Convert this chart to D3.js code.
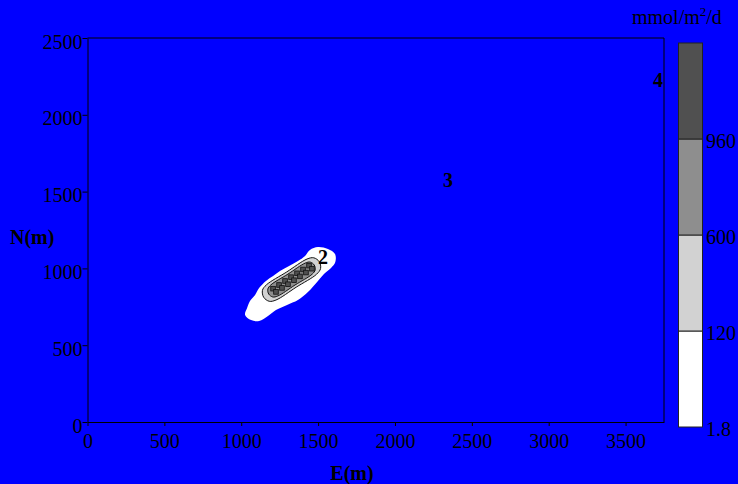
<!DOCTYPE html>
<html>
<head>
<meta charset="utf-8">
<script src="https://cdn.jsdelivr.net/npm/d3@7"></script>
<style>
  html, body { margin: 0; padding: 0; background: #0000ff; }
  svg { display: block; }
  text { font-family: "Liberation Serif", "DejaVu Serif", serif; fill: #000; }
</style>
</head>
<body>
<svg id="chart" width="738" height="484"></svg>
<script>
// Flux field over the survey area (E, N in metres)
const xTicks = [0, 500, 1000, 1500, 2000, 2500, 3000, 3500];
const yTicks = [0, 500, 1000, 1500, 2000, 2500];

// Contour levels (mmol/m2/d) and their fills
const levels = [1.8, 120, 600, 960];
const levelLabels = ["1.8", "120", "600", "960"];
const levelColors = ["#ffffff", "#d2d2d2", "#8e8e8e", "#505050"];

// Contour outlines, [E, N] vertices
const contour1_8 = [[1499,1139],[1564,1126],[1610,1094],[1612,1042],[1584,1003],[1545,970],[1499,918],
  [1434,846],[1369,794],[1298,762],[1226,729],[1174,690],[1116,658],[1064,664],[1025,697],[1038,742],
  [1057,788],[1090,827],[1116,872],[1161,918],[1207,950],[1252,983],[1311,1016],[1369,1048],[1415,1081],[1447,1120]];
const contour120 = [[1428,1061],[1472,1069],[1508,1043],[1516,999],[1490,962],[1358,878],[1226,794],
  [1182,786],[1146,812],[1138,857],[1164,893],[1296,977]];
const contour600 = [[1417,1035],[1449,1041],[1475,1022],[1481,990],[1462,963],[1350,892],[1237,820],
  [1205,814],[1179,833],[1173,865],[1192,892],[1304,963]];
const contours = [contour1_8, contour120, contour600];

// Cells above 960 (centre E, N)
const hotCellsE = [1207,1246,1285,1324,1363,1402,1441, 1226,1265,1304,1343,1382,1421,1460];
const hotCellsN = [ 868, 892, 918, 943, 968, 993,1018,  847, 873, 897, 923, 948, 973, 998];
const cellSize = 30;

// Sampling stations
const stationIds = ["2", "3", "4"];
const stationE = [1532, 2345, 3711];
const stationN = [1074, 1575, 2226];

const svg = d3.select("#chart");
const x = d3.scaleLinear().domain([0, 3750]).range([87.5, 664]);
const y = d3.scaleLinear().domain([0, 2500]).range([422, 38]);

// contours, lowest level first
const line = d3.line().x(d => x(d[0])).y(d => y(d[1])).curve(d3.curveCatmullRomClosed.alpha(0.5));
svg.append("g").selectAll("path").data(contours).join("path")
  .attr("d", d => line(d))
  .attr("fill", (d, i) => levelColors[i])
  .attr("stroke", (d, i) => i === 0 ? "none" : "#111")
  .attr("stroke-width", 1);

// hot cells
const cells = hotCellsE.map((e, i) => ({ e, n: hotCellsN[i] }));
svg.append("g").selectAll("rect").data(cells).join("rect")
  .attr("x", d => x(d.e - cellSize / 2))
  .attr("y", d => y(d.n + cellSize / 2))
  .attr("width", d => x(d.e + cellSize / 2) - x(d.e - cellSize / 2))
  .attr("height", d => y(d.n - cellSize / 2) - y(d.n + cellSize / 2))
  .attr("fill", levelColors[3])
  .attr("stroke", "#111")
  .attr("stroke-width", 0.8);

// stations
svg.append("g").selectAll("text").data(stationIds).join("text")
  .attr("x", (d, i) => x(stationE[i]))
  .attr("y", (d, i) => y(stationN[i]))
  .attr("text-anchor", "middle")
  .attr("dominant-baseline", "central")
  .style("font-size", "20px")
  .style("font-weight", "bold")
  .text(d => d);

// axes
const fontSize = "20px";
const gx = svg.append("g").attr("transform", "translate(0,422)")
  .call(d3.axisBottom(x).tickValues(xTicks).tickSize(4).tickSizeOuter(0).tickPadding(8).tickFormat(d3.format("d")));
const gy = svg.append("g").attr("transform", "translate(87.5,0)")
  .call(d3.axisLeft(y).tickValues(yTicks).tickSize(5).tickSizeOuter(0).tickPadding(0).tickFormat(d3.format("d")));
[gx, gy].forEach(g => {
  g.selectAll("text").style("font-size", fontSize).style("font-family", "'Liberation Serif', serif").attr("fill", "#000");
  g.selectAll("line, path").attr("stroke", "#000");
});
gy.selectAll("text").attr("dy", "0.5em");

// frame top and right
svg.append("path")
  .attr("d", `M${x(0)},${y(2500)}H${x(3750)}V${y(0)}`)
  .attr("fill", "none").attr("stroke", "#000");

// axis titles
svg.append("text").attr("x", 352).attr("y", 480).attr("text-anchor", "middle")
  .style("font-size", "20px").style("font-weight", "bold").text("E(m)");
svg.append("text").attr("x", 10).attr("y", 244)
  .style("font-size", "20px").style("font-weight", "bold").text("N(m)");

// colour bar
const cb = d3.scaleLinear().domain([0, levels.length]).range([427, 43]);
const cbx = 678.5, cbw = 24;
svg.append("g").selectAll("rect").data(levels).join("rect")
  .attr("x", cbx).attr("width", cbw)
  .attr("y", (d, i) => cb(i + 1))
  .attr("height", (d, i) => cb(i) - cb(i + 1))
  .attr("fill", (d, i) => levelColors[i])
  .attr("stroke", "#222").attr("stroke-width", 1);
svg.append("g").selectAll("text").data(levelLabels).join("text")
  .attr("x", 706).attr("y", (d, i) => cb(i) + 2)
  .attr("dominant-baseline", "central")
  .style("font-size", fontSize)
  .text(d => d);

const title = svg.append("text").attr("x", 632).attr("y", 24).style("font-size", "20px");
title.append("tspan").text("mmol/m");
title.append("tspan").attr("dy", -8).style("font-size", "13px").text("2");
title.append("tspan").attr("dy", 8).text("/d");
</script>
</body>
</html>
